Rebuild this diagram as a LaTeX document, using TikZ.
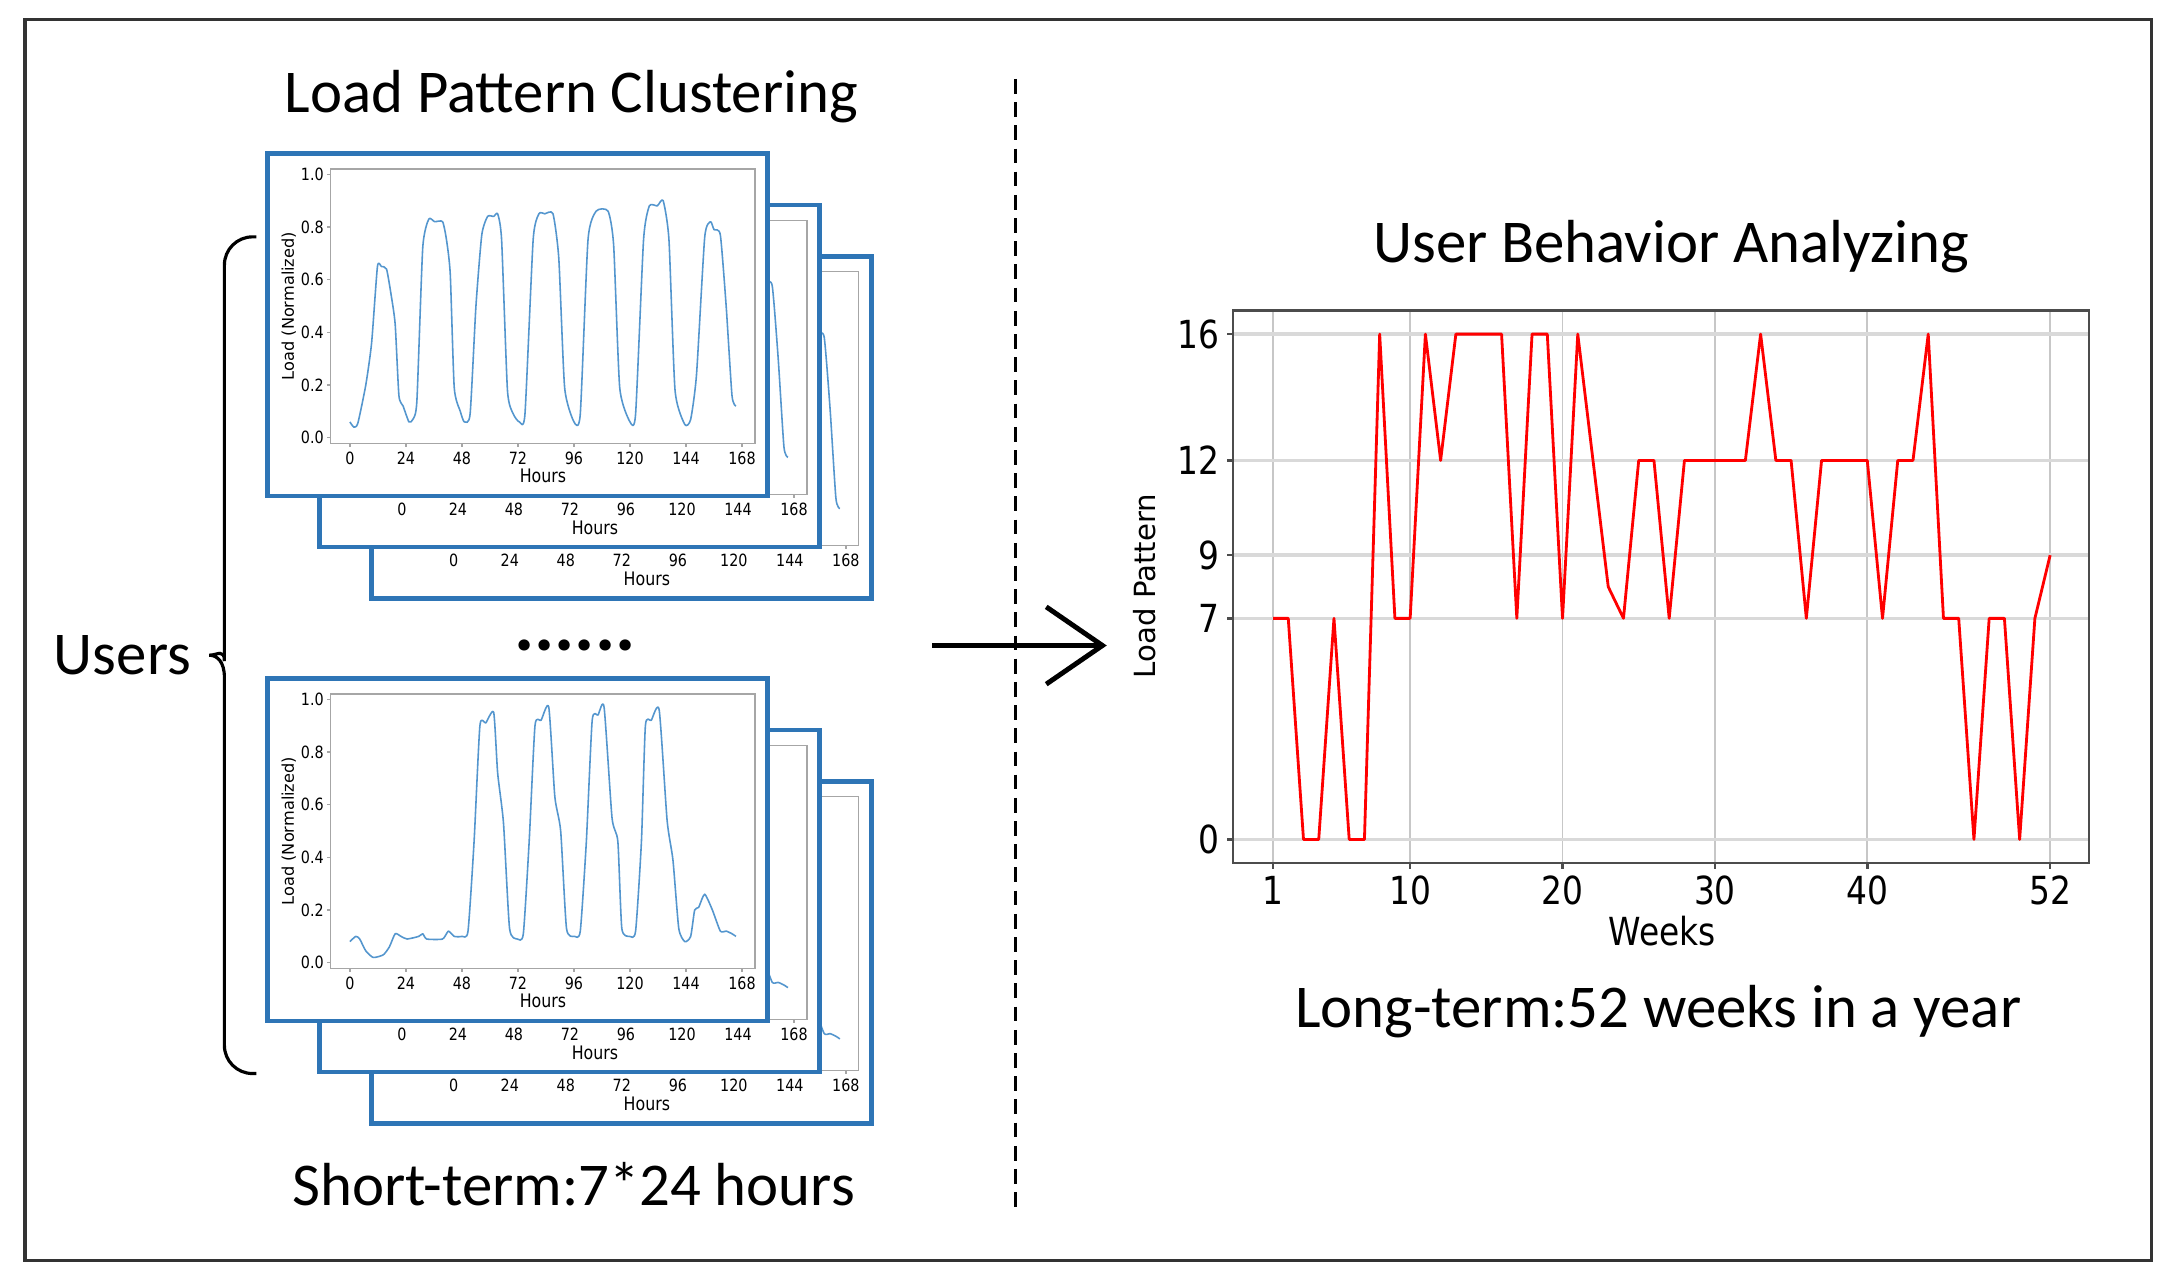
\documentclass[tikz,border=0pt]{standalone}
\usepackage{fontspec}
\setmainfont{Carlito}
\newfontfamily\plotfont[FakeStretch=0.85]{DejaVu Sans}
\newfontfamily\labelfont{DejaVu Sans}
\usepackage{tikz}
\usetikzlibrary{arrows.meta, calc, positioning}
\definecolor{cardblue}{RGB}{46,117,182}
\definecolor{curveblue}{RGB}{84,150,206}

% one card of the short-term plots, origin at its top left corner
\newcommand{\loadcard}[1]{%
	\draw[card_style] (0,0) rectangle (361,247);
	\draw[axes_style] (45.5,11) rectangle (352,209);
	\foreach \v [count=\i] in {0.0,0.2,0.4,0.6,0.8,1.0} {
		\draw[axes_style] (45.5,{205-190.2*\v}) -- ++(-2.5,0);
		\node[tick_label_style, anchor=east] (#1_ytick_\i) at (42.5,{205-190.2*\v}) {\v};
	}
	\foreach \h in {0,24,...,168} {
		\draw[axes_style] ({59.6+1.685*\h},209) -- ++(0,2.5);
		\node[tick_label_style] (#1_xtick_\h) at ({59.6+1.685*\h},219.6) {\h};
	}
	\node[hours_style] (#1_hours) at (199,232.7) {Hours};
	\node[norm_style] (#1_ylabel) at (15.5,110) {Load (Normalized)};
}

\begin{document}
\begin{tikzpicture}[x=0.013852cm, y=-0.013852cm]
	\tikzstyle{frame_style}=[draw=black!80, line width=1pt]
	\tikzstyle{main_text}=[inner sep=0pt, font=\fontsize{17.3}{20}\selectfont]
	\tikzstyle{card_style}=[draw=cardblue, line width=1.3pt, fill=white]
	\tikzstyle{axes_style}=[draw=black!35, line width=0.35pt]
	\tikzstyle{tick_label_style}=[inner sep=0.5pt, font=\fontsize{4.8}{5}\plotfont]
	\tikzstyle{hours_style}=[inner sep=0.5pt, font=\fontsize{5.3}{6}\plotfont]
	\tikzstyle{norm_style}=[inner sep=0.5pt, rotate=90, font=\fontsize{4.6}{5}\labelfont]
	\tikzstyle{curve_style}=[draw=curveblue, line width=0.45pt, line join=round]
	\tikzstyle{grid_h_style}=[draw=black!15, line width=1pt]
	\tikzstyle{grid_v_style}=[draw=black!22, line width=0.45pt]
	\tikzstyle{pattern_axes_style}=[draw=black!70, line width=0.7pt]
	\tikzstyle{pattern_tick_style}=[inner sep=1pt, font=\fontsize{11}{12}\plotfont]
	\tikzstyle{pattern_curve_style}=[draw=red, line width=0.8pt, line join=round]
	\useasboundingbox (0,0) rectangle (1568,925);
	% outer frame and separator
	\draw[frame_style] (18,14) rectangle (1553,910);
	\coordinate (split_top) at (733,57);
	\coordinate (split_bottom) at (733,873);
	\draw[line width=0.75pt, dash pattern=on 4.2pt off 2.4pt] (split_top) -- (split_bottom);
	% short-term side
	\node[main_text] (clustering_title) at (412.5,70) {Load Pattern Clustering};
	\foreach \k/\ox/\oy in {3/268/185, 2/230.5/148, 1/193/111} {
		\begin{scope}[shift={(\ox,\oy)}]
			\loadcard{upper_\k}
			\begin{scope}[shift={(59.6,205)}, xscale=1.685, yscale=-190.2]
				\draw[curve_style] plot[smooth, tension=0.35] coordinates {(0,0.06) (1.7,0.04) (3.4,0.055) (6.8,0.2) (9.3,0.36) (11.8,0.65) (13.5,0.65) (15.7,0.64) (17.7,0.54) (19.4,0.43) (21,0.16) (22.8,0.12) (25.3,0.06) (27,0.07) (28.7,0.14) (31.2,0.72) (33.8,0.83) (36.3,0.82) (39.7,0.82) (41.4,0.75) (43,0.62) (44.7,0.19) (47.3,0.10) (49,0.06) (51.5,0.09) (54,0.5) (56.5,0.77) (59,0.84) (61.6,0.84) (63.3,0.85) (65,0.75) (67.5,0.18) (70,0.09) (72.6,0.06) (75,0.09) (78.5,0.75) (81,0.85) (83.5,0.85) (87,0.85) (89.5,0.68) (92,0.19) (96,0.06) (98.7,0.09) (102,0.75) (105.5,0.86) (110.6,0.86) (113,0.73) (115.6,0.19) (120,0.06) (122.4,0.09) (125.8,0.75) (128.3,0.88) (131.7,0.88) (134.2,0.9) (136.7,0.75) (139.3,0.18) (143.5,0.05) (146,0.07) (148.5,0.24) (152,0.76) (154.5,0.82) (156,0.79) (158.7,0.77) (161.2,0.5) (163.7,0.16) (165.4,0.12)};
			\end{scope}
		\end{scope}
	}
	\node[inner sep=0pt, font=\fontsize{21.5}{22}\bfseries] (more_users) at (415,466) {......};
	\foreach \k/\ox/\oy in {3/268/564, 2/230.5/527, 1/193/490} {
		\begin{scope}[shift={(\ox,\oy)}]
			\loadcard{lower_\k}
			\begin{scope}[shift={(59.6,205)}, xscale=1.685, yscale=-190.2]
				\draw[curve_style] plot[smooth, tension=0.35] coordinates {(0,0.08) (2.5,0.1) (4.2,0.09) (6.8,0.045) (10,0.02) (14.3,0.03) (16.9,0.06) (19.4,0.11) (21.9,0.1) (24.5,0.09) (29.5,0.1) (31.2,0.11) (32.9,0.09) (39.7,0.09) (42.2,0.12) (44.7,0.1) (48,0.1) (50.6,0.12) (53.2,0.46) (55.7,0.9) (58.2,0.91) (61.6,0.95) (63.3,0.72) (65.8,0.53) (68.4,0.13) (71.7,0.09) (74.3,0.11) (76.8,0.46) (79.3,0.9) (81.9,0.92) (85.2,0.97) (87.8,0.63) (90.3,0.5) (92.8,0.13) (96.2,0.1) (98.7,0.12) (101.3,0.46) (103.8,0.92) (106.3,0.94) (108.9,0.97) (112.3,0.55) (114.8,0.46) (116.5,0.13) (119.8,0.1) (122.4,0.12) (124.9,0.46) (126.6,0.9) (129.1,0.92) (132.5,0.96) (135.9,0.54) (138.4,0.39) (140.9,0.13) (143.5,0.08) (146,0.1) (147.7,0.2) (149.4,0.21) (152,0.26) (155.3,0.2) (158.7,0.12) (161.2,0.12) (163.7,0.11) (165.4,0.1)};
			\end{scope}
		\end{scope}
	}
	\node[main_text] (short_term) at (414,855) {Short-term:7*24 hours};
	% users brace
	\coordinate (brace_top) at (185,171);
	\coordinate (brace_tip) at (151,473);
	\coordinate (brace_bottom) at (185,775);
	\draw[line width=0.9pt] (brace_top) [rounded corners=8] -- (162,171) -- (162,457) [sharp corners] .. controls (162,468) and (157,473) .. (brace_tip) .. controls (157,473) and (162,478) .. (162,489) [rounded corners=8] -- (162,775) -- (brace_bottom);
	\node[main_text, left=5pt of brace_tip] (users) {Users};
	% arrow
	\coordinate (arrow_start) at (673,466);
	\coordinate (arrow_end) at (799,466);
	\draw[line width=1.4pt, -{Straight Barb[length=16pt, width=22pt]}] (arrow_start) -- (arrow_end);
	% long-term side
	\node[main_text] (behavior_title) at (1206.5,178) {User Behavior Analyzing};
	\foreach \w in {1,10,20,30,40,52}
		\draw[grid_v_style] ({908+11*\w},224) -- ({908+11*\w},623);
	\foreach \p in {0,7,9,12,16}
		\draw[grid_h_style] (890,{606-22.8*\p}) -- (1508,{606-22.8*\p});
	\draw[pattern_axes_style] (890,224) rectangle (1508,623);
	\foreach \w in {1,10,20,30,40,52} {
		\draw[pattern_axes_style] ({908+11*\w},623) -- ++(0,4.5);
		\node[pattern_tick_style] (week_\w) at ({908+11*\w},643) {\w};
	}
	\foreach \p in {0,7,9,12,16} {
		\draw[pattern_axes_style] (890,{606-22.8*\p}) -- ++(-4.5,0);
		\node[pattern_tick_style, anchor=east] (pattern_\p) at (883,{606-22.8*\p}) {\p};
	}
	\node[pattern_tick_style] (weeks_label) at (1200,672) {Weeks};
	\node[inner sep=0pt, rotate=90, font=\fontsize{8.3}{9}\labelfont] (pattern_label) at (826,423) {Load Pattern};
	\begin{scope}[shift={(908,606)}, xscale=11, yscale=-22.8]
		\draw[pattern_curve_style] plot coordinates {(1,7) (2,7) (3,0) (4,0) (5,7) (6,0) (7,0) (8,16) (9,7) (10,7) (11,16) (12,12) (13,16) (14,16) (15,16) (16,16) (17,7) (18,16) (19,16) (20,7) (21,16) (22,12) (23,8) (24,7) (25,12) (26,12) (27,7) (28,12) (29,12) (30,12) (31,12) (32,12) (33,16) (34,12) (35,12) (36,7) (37,12) (38,12) (39,12) (40,12) (41,7) (42,12) (43,12) (44,16) (45,7) (46,7) (47,0) (48,7) (49,7) (50,0) (51,7) (52,9)};
	\end{scope}
	\node[main_text] (long_term) at (1197,730) {Long-term:52 weeks in a year};
\end{tikzpicture}
\end{document}
